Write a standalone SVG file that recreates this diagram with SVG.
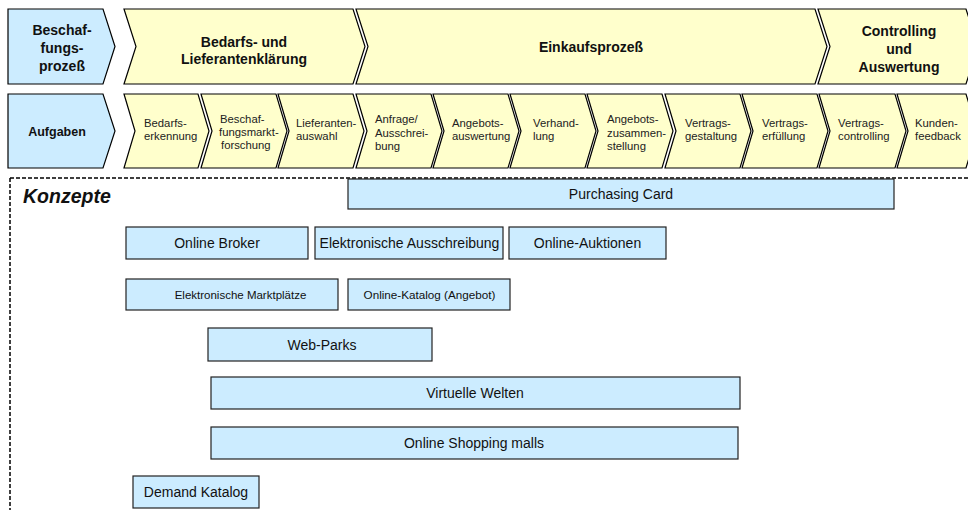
<svg xmlns="http://www.w3.org/2000/svg" width="968" height="510" viewBox="0 0 968 510">
<style>
.cy{fill:#FFFFCC;stroke:#000;stroke-width:1.2;stroke-linejoin:miter}
.cb{fill:#CCECFF;stroke:#000;stroke-width:1.2}
.box{fill:#CCECFF;stroke:#222;stroke-width:1.2}
.h{font-family:"Liberation Sans",Arial,sans-serif;font-weight:bold;font-size:14px;fill:#111;text-anchor:middle}
.t{font-family:"Liberation Sans",Arial,sans-serif;font-size:11.3px;fill:#222}
.b{font-family:"Liberation Sans",Arial,sans-serif;font-size:14px;fill:#111;text-anchor:middle}
.s{font-family:"Liberation Sans",Arial,sans-serif;font-size:11.7px;fill:#111;text-anchor:middle}
.frame{fill:none;stroke:#000;stroke-width:1.5;stroke-dasharray:4 2}
</style>
<rect width="968" height="510" fill="#fff"/>
<g id="frame">
<path class="frame" d="M10 178 H968 M10 178 V510"/>
<text x="23" y="203" font-family="Liberation Sans,Arial,sans-serif" font-weight="bold" font-style="italic" font-size="19.5" fill="#111">Konzepte</text>
</g>
<g id="row1">
<g id="beschaffungsprozess">
<polygon class="cb" points="8,9 103,9 115,46.5 103,84 8,84"/>
<text class="h" x="62"><tspan x="62" y="35">Beschaf-</tspan><tspan x="62" y="53">fungs-</tspan><tspan x="62" y="71">prozeß</tspan></text>
</g>
<g id="bedarfsklaerung">
<polygon class="cy" points="124,9 353,9 365,46.5 353,84 124,84 136,46.5"/>
<text class="h"><tspan x="244" y="47">Bedarfs- und</tspan><tspan x="244" y="64">Lieferantenklärung</tspan></text>
</g>
<g id="einkaufsprozess">
<polygon class="cy" points="356,9 815,9 827,46.5 815,84 356,84 368,46.5"/>
<text class="h" x="591" y="52">Einkaufsprozeß</text>
</g>
<g id="controlling">
<polygon class="cy" points="818,9 966,9 978,46.5 966,84 818,84 830,46.5"/>
<text class="h"><tspan x="899" y="36">Controlling</tspan><tspan x="899" y="54">und</tspan><tspan x="899" y="72">Auswertung</tspan></text>
</g>
</g>
<g id="row2">
<g id="aufgaben">
<polygon class="cb" points="8,94 103,94 115,131 103,168 8,168"/>
<text class="h" x="57" y="136" style="font-size:12.5px">Aufgaben</text>
</g>
<g id="t1"><polygon class="cy" points="124,94 198,94 209,131 198,168 124,168 135,131"/>
<text class="t"><tspan x="144" y="127">Bedarfs-</tspan><tspan x="144" y="140">erkennung</tspan></text></g>
<g id="t2"><polygon class="cy" points="201,94 276,94 287,131 276,168 201,168 212,131"/>
<text class="t"><tspan x="220" y="123">Beschaf-</tspan><tspan x="219" y="136">fungsmarkt-</tspan><tspan x="221" y="149">forschung</tspan></text></g>
<g id="t3"><polygon class="cy" points="278,94 353,94 364,131 353,168 278,168 289,131"/>
<text class="t"><tspan x="296" y="127">Lieferanten-</tspan><tspan x="296" y="140">auswahl</tspan></text></g>
<g id="t4"><polygon class="cy" points="356,94 431,94 442,131 431,168 356,168 367,131"/>
<text class="t"><tspan x="375" y="123">Anfrage/</tspan><tspan x="375" y="136.5">Ausschrei-</tspan><tspan x="375" y="150">bung</tspan></text></g>
<g id="t5"><polygon class="cy" points="433,94 508,94 519,131 508,168 433,168 444,131"/>
<text class="t"><tspan x="452" y="127">Angebots-</tspan><tspan x="452" y="140">auswertung</tspan></text></g>
<g id="t6"><polygon class="cy" points="510,94 585,94 596,131 585,168 510,168 521,131"/>
<text class="t"><tspan x="533" y="127">Verhand-</tspan><tspan x="533" y="140">lung</tspan></text></g>
<g id="t7"><polygon class="cy" points="587,94 662,94 673,131 662,168 587,168 598,131"/>
<text class="t"><tspan x="607" y="123">Angebots-</tspan><tspan x="607" y="136.5">zusammen-</tspan><tspan x="607" y="150">stellung</tspan></text></g>
<g id="t8"><polygon class="cy" points="665,94 740,94 751,131 740,168 665,168 676,131"/>
<text class="t"><tspan x="685" y="127">Vertrags-</tspan><tspan x="685" y="140">gestaltung</tspan></text></g>
<g id="t9"><polygon class="cy" points="742,94 817,94 828,131 817,168 742,168 753,131"/>
<text class="t"><tspan x="762" y="127">Vertrags-</tspan><tspan x="762" y="140">erfüllung</tspan></text></g>
<g id="t10"><polygon class="cy" points="819,94 895,94 906,131 895,168 819,168 830,131"/>
<text class="t"><tspan x="838" y="127">Vertrags-</tspan><tspan x="838" y="140">controlling</tspan></text></g>
<g id="t11"><polygon class="cy" points="897,94 966,94 977,131 966,168 897,168 908,131"/>
<text class="t"><tspan x="915" y="127">Kunden-</tspan><tspan x="915" y="140">feedback</tspan></text></g>
</g>
<g id="connectors"></g>
<g id="concepts">
<g id="purchasing-card"><rect class="box" x="348" y="179" width="546" height="30"/><text class="b" x="621" y="199">Purchasing Card</text></g>
<g id="online-broker"><rect class="box" x="126" y="227" width="182" height="32"/><text class="b" x="217" y="248">Online Broker</text></g>
<g id="elektronische-ausschreibung"><rect class="box" x="315" y="227" width="188" height="32"/><rect x="316" y="236" width="186" height="15" fill="#CCECFF"/><text class="b" x="409.5" y="248">Elektronische Ausschreibung</text></g>
<g id="online-auktionen"><rect class="box" x="509" y="227" width="157" height="32"/><text class="b" x="587.5" y="248">Online-Auktionen</text></g>
<g id="elektronische-marktplaetze"><rect class="box" x="126" y="279" width="212" height="31"/><text class="s" x="240.5" y="298.5" style="font-size:11.5px">Elektronische Marktplätze</text></g>
<g id="online-katalog"><rect class="box" x="348" y="279" width="162" height="31"/><text class="s" x="429.5" y="298.5">Online-Katalog (Angebot)</text></g>
<g id="web-parks"><rect class="box" x="208" y="328" width="224" height="33"/><text class="b" x="322" y="349.5">Web-Parks</text></g>
<g id="virtuelle-welten"><rect class="box" x="211" y="377" width="529" height="32"/><text class="b" x="475" y="398">Virtuelle Welten</text></g>
<g id="online-shopping-malls"><rect class="box" x="211" y="427" width="527" height="32"/><text class="b" x="474" y="448">Online Shopping malls</text></g>
<g id="demand-katalog"><rect class="box" x="133" y="476" width="126" height="32"/><text class="b" x="196" y="497">Demand Katalog</text></g>
</g>
</svg>
